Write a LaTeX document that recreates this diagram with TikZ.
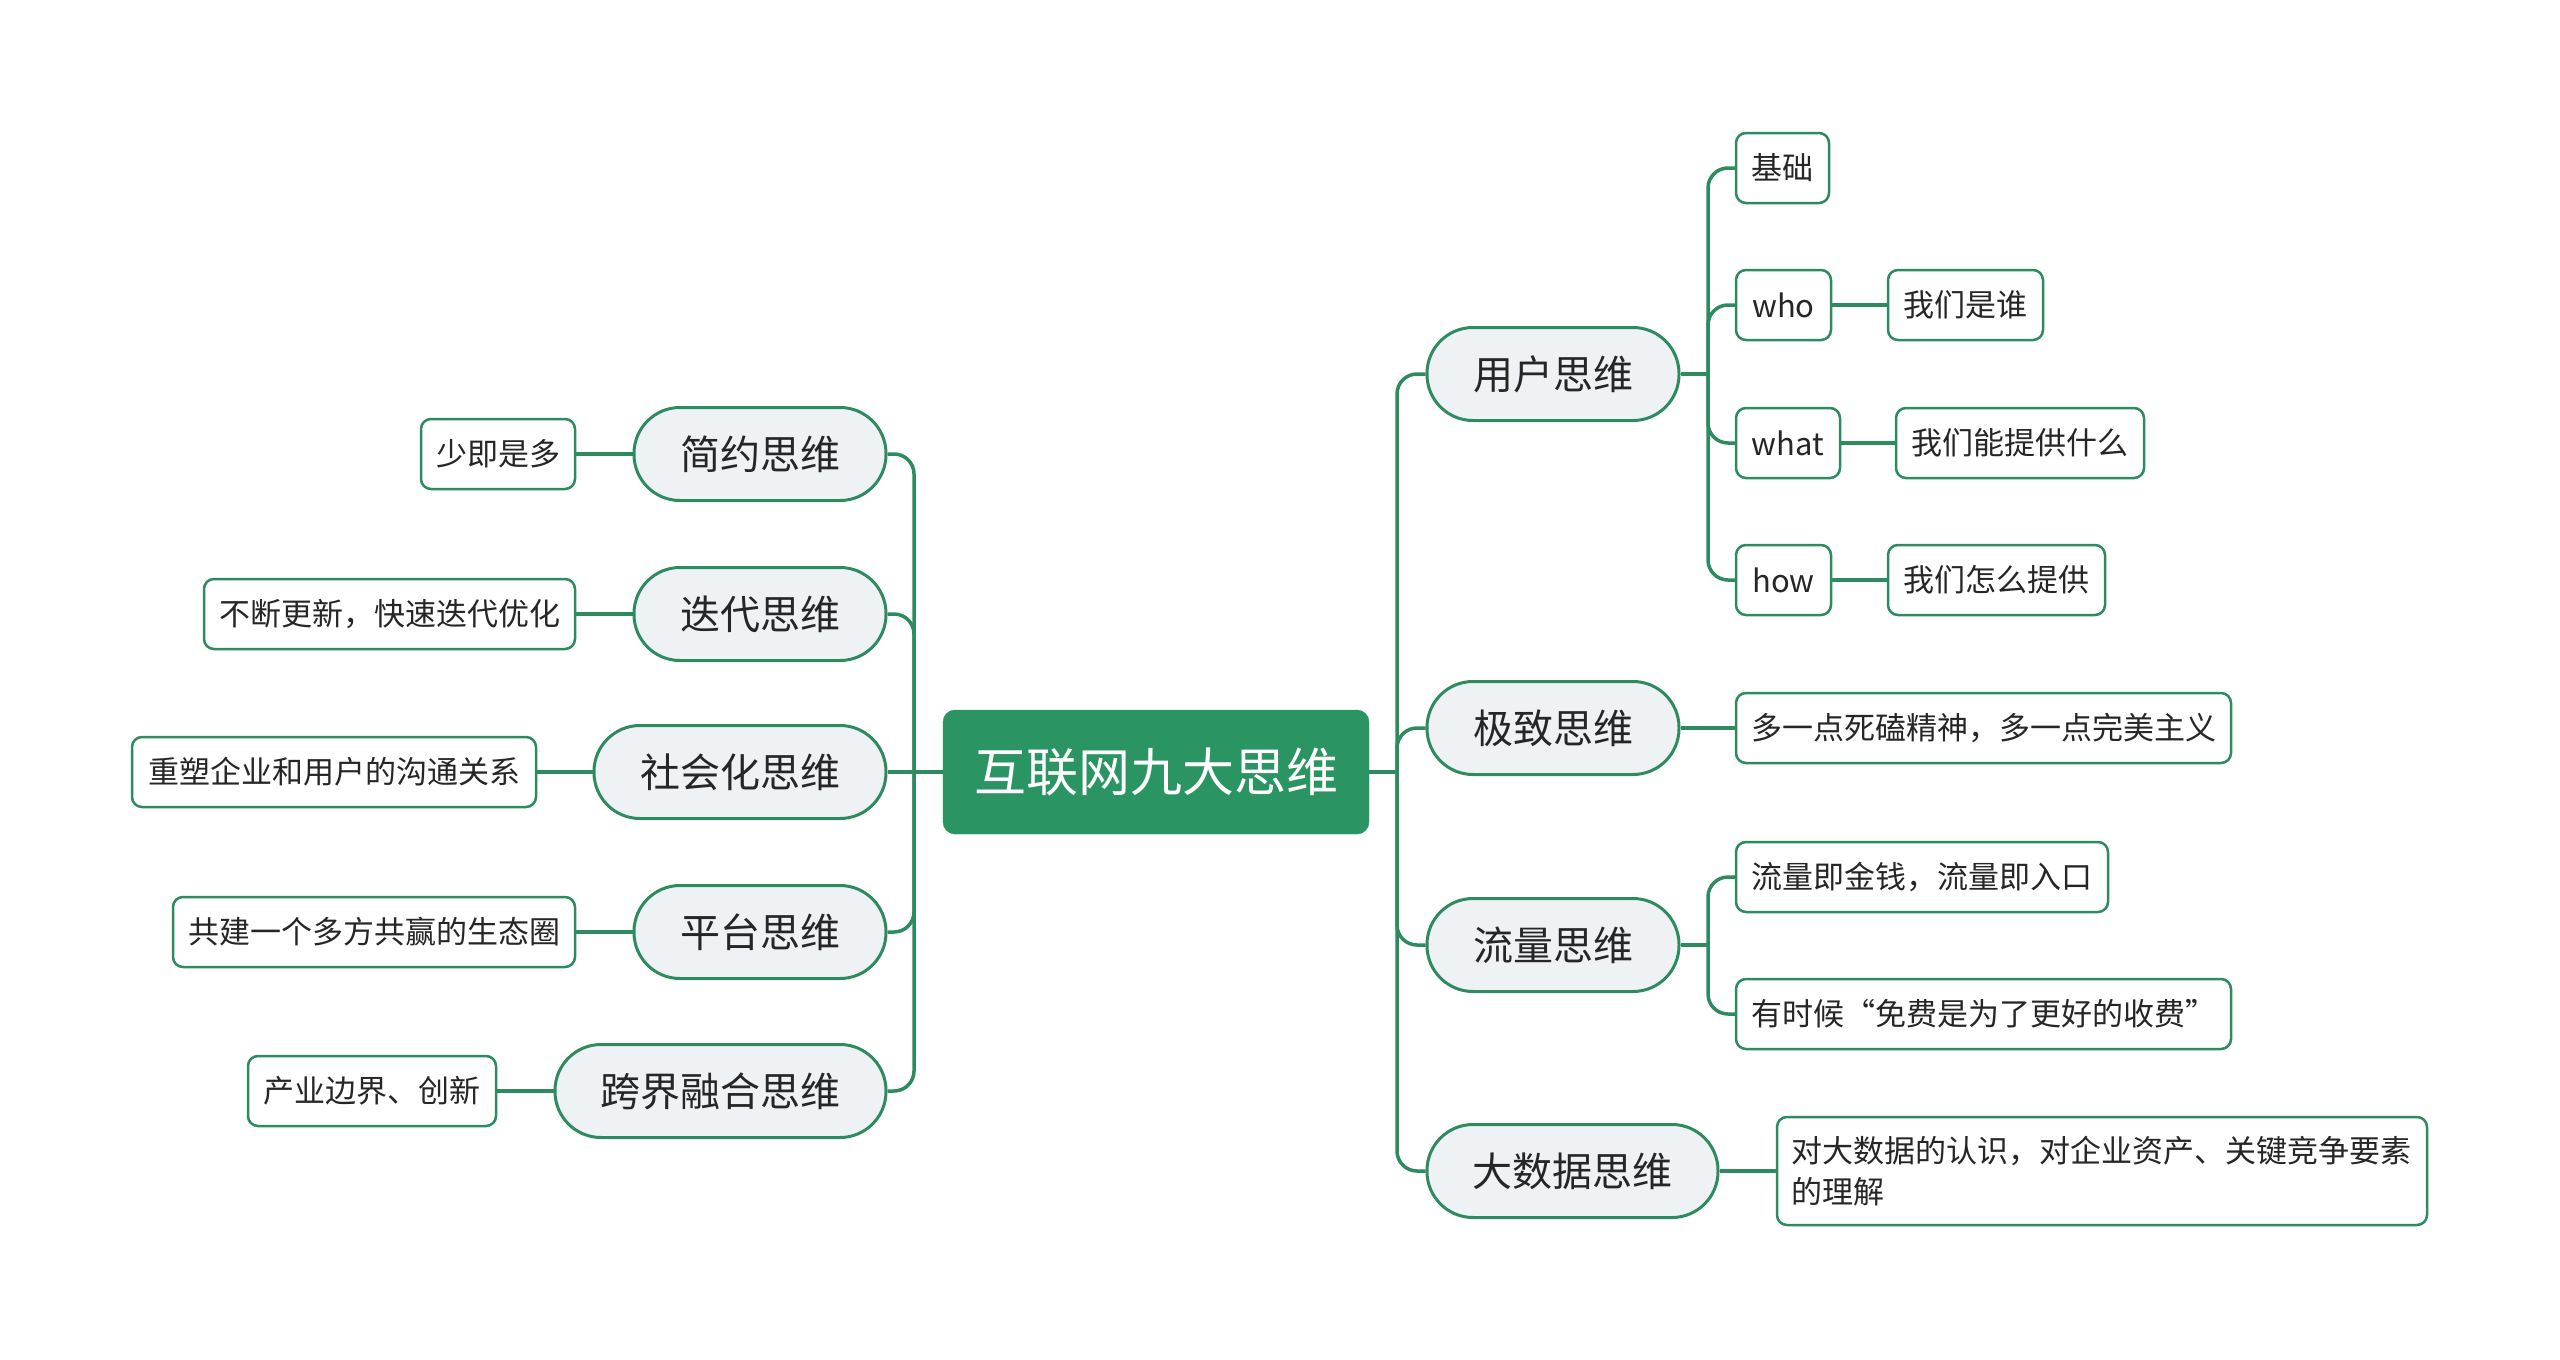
\documentclass[tikz,border=0pt]{standalone}
\usepackage{fontspec}
\setmainfont{Noto Sans CJK SC}
\definecolor{lg}{HTML}{2E8B5F}
\definecolor{cg}{HTML}{2A9462}
\definecolor{pf}{HTML}{EEF2F5}
\definecolor{tx}{HTML}{262626}
\begin{document}
\begin{tikzpicture}[x=1pt,y=-1pt,
  conn/.style={draw=lg, line width=3.5pt, rounded corners=20pt},
  root/.style={fill=cg, draw=cg, rounded corners=12pt, minimum width=426pt, minimum height=124pt, inner sep=0pt, text=white, font=\fontsize{52}{60}\selectfont},
  pill/.style={fill=pf, draw=lg, line width=3pt, rounded corners=46pt, minimum height=93pt, inner sep=0pt, text=tx, font=\fontsize{40}{48}\selectfont},
  leaf/.style={fill=white, draw=lg, line width=2.5pt, rounded corners=10pt, minimum height=70pt, inner sep=0pt, text=tx, font=\fontsize{31}{41}\selectfont}]
\fill[white] (0,0) rectangle (2560,1360);
\useasboundingbox (0,0) rectangle (2560,1360);
% root and main branches
\node[root] (c) at (1156,772) {互联网九大思维};
\node[pill, minimum width=252pt] (u) at (1553,374) {用户思维};
\node[pill, minimum width=252pt] (jz) at (1553,728) {极致思维};
\node[pill, minimum width=252pt] (ll) at (1553,945) {流量思维};
\node[pill, minimum width=291pt] (dsj) at (1572.5,1171) {大数据思维};
\node[pill, minimum width=252pt] (jy) at (760,454) {简约思维};
\node[pill, minimum width=252pt] (dd) at (760,614) {迭代思维};
\node[pill, minimum width=292pt] (sh) at (740,772) {社会化思维};
\node[pill, minimum width=252pt] (pt) at (760,932) {平台思维};
\node[pill, minimum width=331pt] (kj) at (720.5,1091) {跨界融合思维};
% right leaves
\node[leaf, minimum width=93pt] (jc) at (1782.5,168) {基础};
\node[leaf, minimum width=95pt] (who) at (1783.5,305) {who};
\node[leaf, minimum width=155pt] (who2) at (1965.5,305) {我们是谁};
\node[leaf, minimum width=104pt] (what) at (1788,443) {what};
\node[leaf, minimum width=248pt] (what2) at (2020,443) {我们能提供什么};
\node[leaf, minimum width=95pt] (how) at (1783.5,580) {how};
\node[leaf, minimum width=217pt] (how2) at (1996.5,580) {我们怎么提供};
\node[leaf, minimum width=495pt] (jz1) at (1983.5,728) {多一点死磕精神，多一点完美主义};
\node[leaf, minimum width=372pt] (ll1) at (1922,877) {流量即金钱，流量即入口};
\node[leaf, minimum width=495pt] (ll2) at (1983.5,1014) {有时候“免费是为了更好的收费”};
\node[leaf, minimum width=650pt, minimum height=108pt, align=left, text width=622pt] (dsj1) at (2102,1171) {对大数据的认识，对企业资产、关键竞争要素\\的理解};
% left leaves
\node[leaf, minimum width=154pt] (jy1) at (498,454) {少即是多};
\node[leaf, minimum width=371pt] (dd1) at (389.5,614) {不断更新，快速迭代优化};
\node[leaf, minimum width=404pt] (sh1) at (334,772) {重塑企业和用户的沟通关系};
\node[leaf, minimum width=402pt] (pt1) at (374,932) {共建一个多方共赢的生态圈};
\node[leaf, minimum width=248pt] (kj1) at (372,1091) {产业边界、创新};
% connectors
\coordinate (rt) at (1397,772);
\coordinate (lt) at (914,772);
\coordinate (ut) at (1708,374);
\coordinate (ft) at (1708,945);
\draw[conn] (c.east) -- (rt);
\foreach \n in {u,jz,ll,dsj} \draw[conn] (rt) |- (\n.west);
\draw[conn] (c.west) -- (sh.east);
\foreach \n in {jy,dd,pt,kj} \draw[conn] (lt) |- (\n.east);
\draw[conn] (u.east) -- (ut);
\foreach \n in {jc,who,what,how} \draw[conn] (ut) |- (\n.west);
\draw[conn] (who.east) -- (who2.west);
\draw[conn] (what.east) -- (what2.west);
\draw[conn] (how.east) -- (how2.west);
\draw[conn] (jz.east) -- (jz1.west);
\draw[conn] (ll.east) -- (ft);
\foreach \n in {ll1,ll2} \draw[conn] (ft) |- (\n.west);
\draw[conn] (dsj.east) -- (dsj1.west);
\draw[conn] (jy.west) -- (jy1.east);
\draw[conn] (dd.west) -- (dd1.east);
\draw[conn] (sh.west) -- (sh1.east);
\draw[conn] (pt.west) -- (pt1.east);
\draw[conn] (kj.west) -- (kj1.east);
\end{tikzpicture}
\end{document}
